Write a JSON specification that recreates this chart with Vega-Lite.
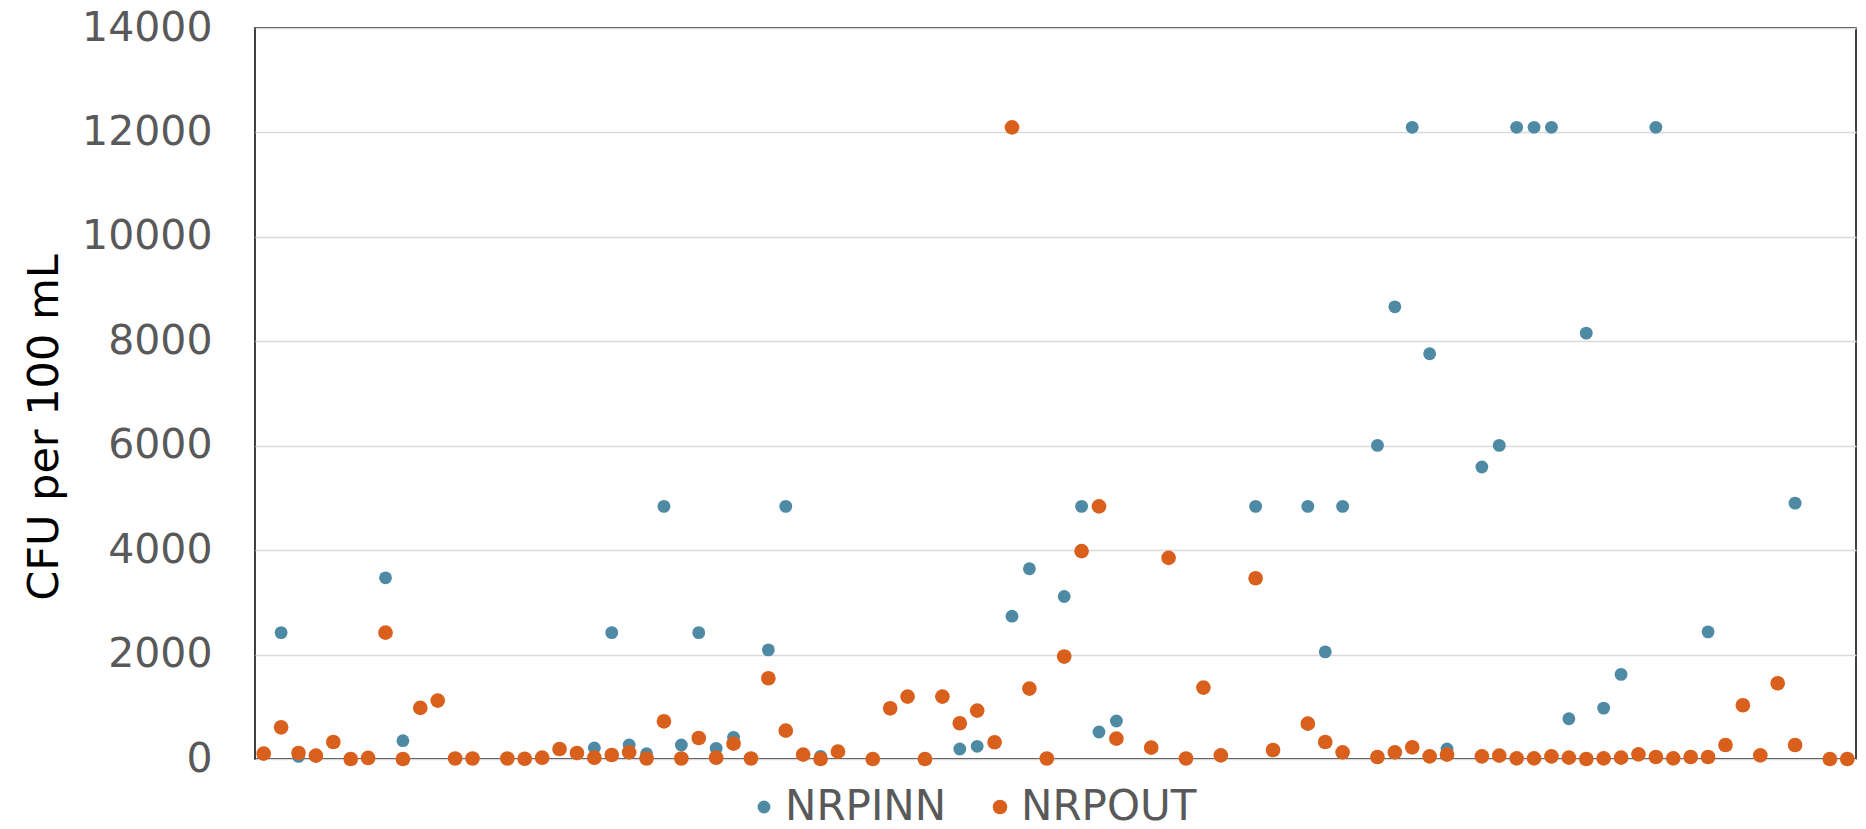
{
  "$schema": "https://vega.github.io/schema/vega-lite/v6.json",
  "autosize": "none",
  "width": 1601,
  "height": 731,
  "padding": {"left": 255, "top": 28, "right": 10, "bottom": 70},
  "config": {"view": {"stroke": "#000000", "strokeWidth": 1.5}, "font": "DejaVu Sans"},
  "data": {"values": [
    {"i":0,"NRPINN":null,"NRPOUT":102},
    {"i":1,"NRPINN":2420,"NRPOUT":607},
    {"i":2,"NRPINN":50,"NRPOUT":115},
    {"i":3,"NRPINN":null,"NRPOUT":64},
    {"i":4,"NRPINN":null,"NRPOUT":326},
    {"i":5,"NRPINN":null,"NRPOUT":0},
    {"i":6,"NRPINN":null,"NRPOUT":20},
    {"i":7,"NRPINN":3470,"NRPOUT":2420},
    {"i":8,"NRPINN":351,"NRPOUT":0},
    {"i":9,"NRPINN":null,"NRPOUT":978},
    {"i":10,"NRPINN":null,"NRPOUT":1118},
    {"i":11,"NRPINN":null,"NRPOUT":10},
    {"i":12,"NRPINN":null,"NRPOUT":10},
    {"i":14,"NRPINN":null,"NRPOUT":10},
    {"i":15,"NRPINN":null,"NRPOUT":5},
    {"i":16,"NRPINN":null,"NRPOUT":25},
    {"i":17,"NRPINN":null,"NRPOUT":192},
    {"i":18,"NRPINN":null,"NRPOUT":115},
    {"i":19,"NRPINN":211,"NRPOUT":25},
    {"i":20,"NRPINN":2420,"NRPOUT":77},
    {"i":21,"NRPINN":268,"NRPOUT":128},
    {"i":22,"NRPINN":100,"NRPOUT":10},
    {"i":23,"NRPINN":4839,"NRPOUT":722},
    {"i":24,"NRPINN":268,"NRPOUT":10},
    {"i":25,"NRPINN":2420,"NRPOUT":403},
    {"i":26,"NRPINN":204,"NRPOUT":25},
    {"i":27,"NRPINN":415,"NRPOUT":294},
    {"i":28,"NRPINN":null,"NRPOUT":10},
    {"i":29,"NRPINN":2090,"NRPOUT":1546},
    {"i":30,"NRPINN":4839,"NRPOUT":543},
    {"i":31,"NRPINN":null,"NRPOUT":83},
    {"i":32,"NRPINN":51,"NRPOUT":0},
    {"i":33,"NRPINN":null,"NRPOUT":140},
    {"i":35,"NRPINN":null,"NRPOUT":0},
    {"i":36,"NRPINN":null,"NRPOUT":971},
    {"i":37,"NRPINN":null,"NRPOUT":1195},
    {"i":38,"NRPINN":null,"NRPOUT":0},
    {"i":39,"NRPINN":null,"NRPOUT":1195},
    {"i":40,"NRPINN":192,"NRPOUT":684},
    {"i":41,"NRPINN":243,"NRPOUT":927},
    {"i":42,"NRPINN":null,"NRPOUT":320},
    {"i":43,"NRPINN":2735,"NRPOUT":12098},
    {"i":44,"NRPINN":3643,"NRPOUT":1348},
    {"i":45,"NRPINN":null,"NRPOUT":10},
    {"i":46,"NRPINN":3112,"NRPOUT":1962},
    {"i":47,"NRPINN":4839,"NRPOUT":3981},
    {"i":48,"NRPINN":518,"NRPOUT":4839},
    {"i":49,"NRPINN":728,"NRPOUT":390},
    {"i":51,"NRPINN":null,"NRPOUT":217},
    {"i":52,"NRPINN":null,"NRPOUT":3853},
    {"i":53,"NRPINN":null,"NRPOUT":10},
    {"i":54,"NRPINN":null,"NRPOUT":1367},
    {"i":55,"NRPINN":null,"NRPOUT":70},
    {"i":57,"NRPINN":4839,"NRPOUT":3462},
    {"i":58,"NRPINN":null,"NRPOUT":173},
    {"i":60,"NRPINN":4839,"NRPOUT":677},
    {"i":61,"NRPINN":2051,"NRPOUT":326},
    {"i":62,"NRPINN":4839,"NRPOUT":128},
    {"i":64,"NRPINN":6006,"NRPOUT":38},
    {"i":65,"NRPINN":8660,"NRPOUT":128},
    {"i":66,"NRPINN":12098,"NRPOUT":224},
    {"i":67,"NRPINN":7762,"NRPOUT":51},
    {"i":68,"NRPINN":192,"NRPOUT":83},
    {"i":70,"NRPINN":5592,"NRPOUT":51},
    {"i":71,"NRPINN":6006,"NRPOUT":64},
    {"i":72,"NRPINN":12098,"NRPOUT":13},
    {"i":73,"NRPINN":12098,"NRPOUT":13},
    {"i":74,"NRPINN":12098,"NRPOUT":51},
    {"i":75,"NRPINN":770,"NRPOUT":26},
    {"i":76,"NRPINN":8156,"NRPOUT":0},
    {"i":77,"NRPINN":975,"NRPOUT":13},
    {"i":78,"NRPINN":1620,"NRPOUT":26},
    {"i":79,"NRPINN":null,"NRPOUT":89},
    {"i":80,"NRPINN":12098,"NRPOUT":38},
    {"i":81,"NRPINN":null,"NRPOUT":13},
    {"i":82,"NRPINN":null,"NRPOUT":38},
    {"i":83,"NRPINN":2435,"NRPOUT":38},
    {"i":84,"NRPINN":null,"NRPOUT":268},
    {"i":85,"NRPINN":null,"NRPOUT":1029},
    {"i":86,"NRPINN":null,"NRPOUT":70},
    {"i":87,"NRPINN":null,"NRPOUT":1451},
    {"i":88,"NRPINN":4900,"NRPOUT":268},
    {"i":90,"NRPINN":null,"NRPOUT":0},
    {"i":91,"NRPINN":null,"NRPOUT":0}
  ]},
  "transform": [{"fold": ["NRPINN", "NRPOUT"], "as": ["series", "cfu"]}],
  "mark": {"type": "point", "shape": "circle", "filled": true, "opacity": 1, "strokeWidth": 0},
  "encoding": {
    "x": {"field": "i", "type": "quantitative", "scale": {"domain": [-0.5, 91.5], "nice": false, "zero": false}, "axis": null},
    "y": {"field": "cfu", "type": "quantitative", "scale": {"domain": [0, 14000], "nice": false},
      "axis": {
        "values": [0, 2000, 4000, 6000, 8000, 10000, 12000, 14000], "format": "d",
        "ticks": false, "domain": false, "grid": true, "gridColor": "#d9d9d9", "gridWidth": 1.5,
        "labelFont": "DejaVu Sans", "labelFontSize": 41, "labelColor": "#595959", "labelPadding": 43,
        "labelFlush": false, "labelOverlap": false, "labelBound": false,
        "title": "CFU per 100 mL", "titleFont": "DejaVu Sans", "titleFontSize": 43, "titleFontWeight": "normal",
        "titleColor": "#000000", "titleX": -198, "titleY": 399, "titleAngle": 270, "titleAlign": "center", "titleBaseline": "alphabetic"
      }},
    "color": {"field": "series", "type": "nominal",
      "scale": {"domain": ["NRPINN", "NRPOUT"], "range": ["#4e8aa4", "#d9601c"]},
      "legend": {"orient": "none", "legendX": 488, "legendY": 758, "direction": "horizontal", "title": null,
        "labelFont": "DejaVu Sans", "labelFontSize": 42, "labelColor": "#595959", "labelLimit": 0, "symbolType": "circle",
        "symbolSize": 120, "labelOffset": 0, "columnPadding": 32, "padding": 0, "symbolStrokeWidth": 0}},
    "size": {"field": "series", "type": "nominal", "scale": {"domain": ["NRPINN", "NRPOUT"], "range": [165, 215]}, "legend": null}
  }
}
